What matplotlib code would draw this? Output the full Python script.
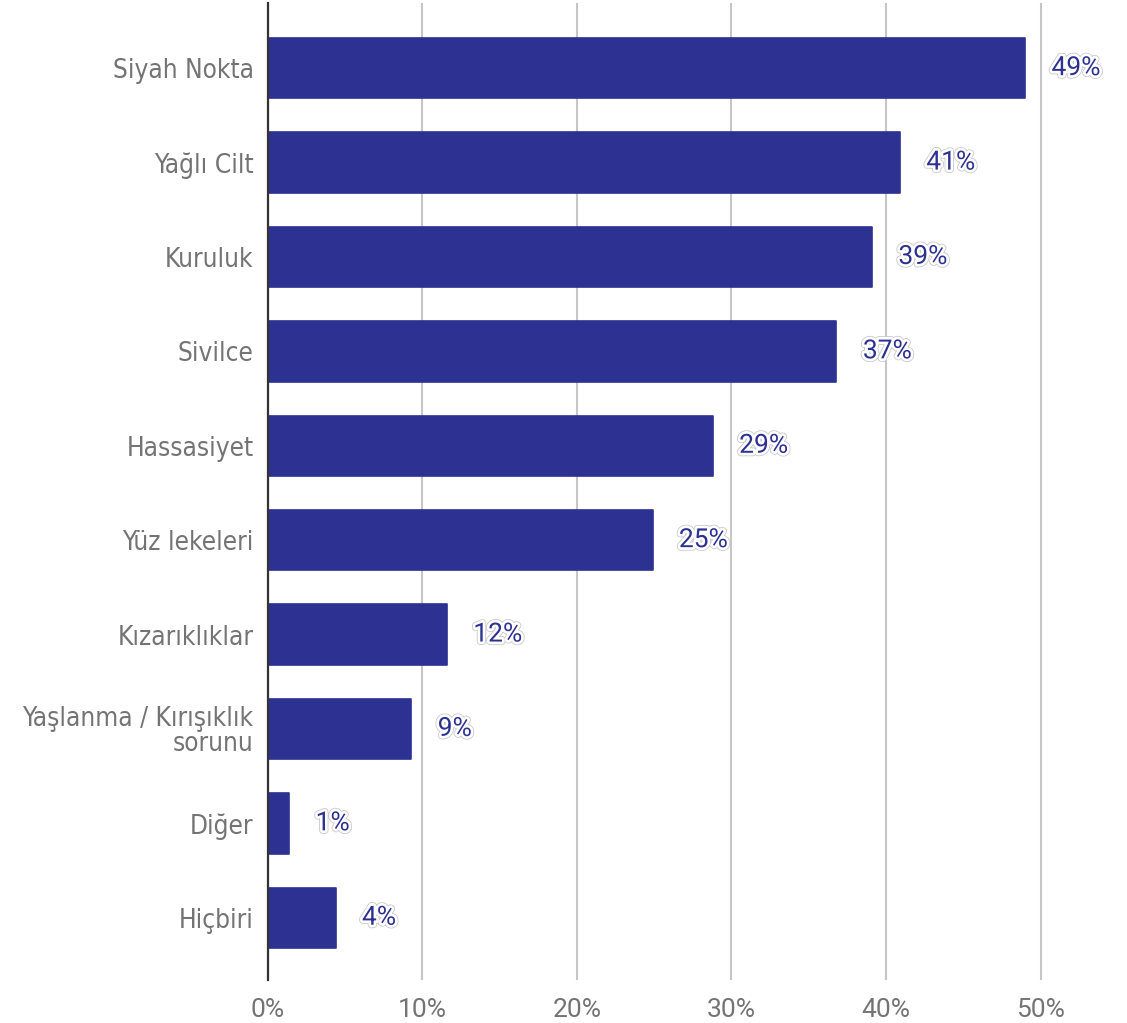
import matplotlib.pyplot as plt
import matplotlib.patheffects as pe
from matplotlib.ticker import FuncFormatter

categories = [
    "Siyah Nokta",
    "Yağlı Cilt",
    "Kuruluk",
    "Sivilce",
    "Hassasiyet",
    "Yüz lekeleri",
    "Kızarıklıklar",
    "Yaşlanma / Kırışıklık\nsorunu",
    "Diğer",
    "Hiçbiri",
]
shares = [49.0, 40.9, 39.1, 36.8, 28.8, 24.9, 11.6, 9.3, 1.4, 4.4]
x_ticks = [0, 10, 20, 30, 40, 50]

BAR = "#2d3192"
GREY_TXT = "#747474"

fig = plt.figure(figsize=(11.27, 10.23), dpi=100)
ax = fig.add_axes([0.2374, 0.042, 0.7545, 0.955])

ypos = list(range(len(categories)))
ax.barh(ypos, shares, height=0.64, color=BAR, edgecolor=BAR,
        linewidth=1.2, joinstyle="round", zorder=3)

# value labels: white halo with a faint grey rim
halo = [pe.Stroke(linewidth=5, foreground="#c9c9c9"),
        pe.Stroke(linewidth=3.8, foreground="white"),
        pe.Normal()]
for y, v in zip(ypos, shares):
    ax.annotate(f"{v:.0f}%", xy=(v, y), xytext=(19, 0),
                textcoords="offset points", ha="left", va="center",
                fontsize=19, family="Roboto", color=BAR,
                path_effects=halo, zorder=4)

ax.set_xlim(0, 55)
ax.set_ylim(9.66, -0.69)
ax.set_xticks(x_ticks)
ax.xaxis.set_major_formatter(FuncFormatter(lambda v, _: f"{v:.0f}%"))
ax.set_yticks(ypos)
ax.set_yticklabels(categories, fontsize=18.8, color=GREY_TXT,
                   family="DejaVu Sans", fontstretch="condensed",
                   linespacing=0.95)
for lbl in ax.get_xticklabels():
    lbl.set_fontsize(19)
    lbl.set_family("Roboto")
    lbl.set_color(GREY_TXT)

ax.tick_params(axis="x", length=0, pad=13)
ax.tick_params(axis="y", length=0, pad=10)

ax.grid(axis="x", color="#c6c6c6", linewidth=1.5)
ax.grid(axis="y", visible=False)
ax.set_axisbelow(True)
for side in ("top", "right", "bottom"):
    ax.spines[side].set_visible(False)
ax.spines["left"].set_color("#333333")
ax.spines["left"].set_linewidth(1.6)
ax.spines["left"].set_zorder(5)

fig.savefig("out.png", dpi=100)
